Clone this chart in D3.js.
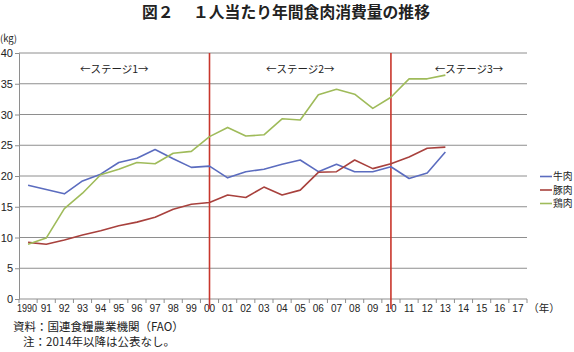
<!DOCTYPE html>
<html>
<head>
<meta charset="utf-8">
<script src="https://cdn.jsdelivr.net/npm/d3@7"></script>
<style>
  body { margin: 0; background: #fff; }
  svg { display: block; }
  text { font-family: "Liberation Sans", Arial, "Noto Sans CJK JP", sans-serif; fill: #222; }
  .jp { font-family: "Noto Sans CJK JP", sans-serif; }
</style>
</head>
<body>
<svg id="chart" width="574" height="352"></svg>
<script>
// 年（1990〜2017）
var years = ["1990", "91", "92", "93", "94", "95", "96", "97", "98", "99",
             "00", "01", "02", "03", "04", "05", "06", "07", "08", "09",
             "10", "11", "12", "13", "14", "15", "16", "17"];
// kg / 人・年 （1990〜2013）
var beef    = [18.5, 17.8, 17.1, 19.2, 20.3, 22.2, 22.9, 24.3, 22.8, 21.4,
               21.6, 19.7, 20.7, 21.1, 21.9, 22.6, 20.7, 21.9, 20.7, 20.7,
               21.5, 19.6, 20.5, 23.9];
var pork    = [9.2, 8.9, 9.6, 10.4, 11.1, 11.9, 12.5, 13.3, 14.6, 15.4,
               15.7, 16.9, 16.5, 18.2, 16.9, 17.7, 20.6, 20.7, 22.6, 21.2,
               22.0, 23.1, 24.5, 24.7];
var chicken = [8.9, 9.9, 14.7, 17.2, 20.2, 21.1, 22.2, 22.0, 23.7, 24.0,
               26.4, 27.9, 26.5, 26.7, 29.3, 29.1, 33.2, 34.1, 33.3, 31.0,
               32.8, 35.8, 35.8, 36.4];
var seriesNames = ["牛肉", "豚肉", "鶏肉"];
var yTicks = [0, 5, 10, 15, 20, 25, 30, 35, 40];
var stageBreaks = ["00", "10"];
var stageLabels = ["←ステージ1→", "←ステージ2→", "←ステージ3→"];

var colors = ["#5b6cbf", "#a8413d", "#9fbb5a"];

var svg = d3.select("#chart");
var plotL = 19, plotR = 527, plotT = 53, plotB = 299;

var x = d3.scaleBand().domain(years).range([plotL, plotR]).paddingInner(0).paddingOuter(0);
var y = d3.scaleLinear().domain([0, 40]).range([plotB, plotT]);
var bw = x.bandwidth();

// title
svg.append("text")
    .attr("class", "jp")
    .attr("x", 286)
    .attr("y", 18)
    .attr("text-anchor", "middle")
    .attr("font-size", 15.8)
    .attr("font-weight", "bold")
    .text("図２　 １人当たり年間食肉消費量の推移");

svg.append("text")
    .attr("class", "jp")
    .attr("x", 0)
    .attr("y", 42)
    .attr("font-size", 9.5)
    .text("(kg)");

// grid lines
svg.append("g")
    .selectAll("line")
    .data(yTicks.filter(function (d) { return d > 0; }))
    .enter()
    .append("line")
    .attr("x1", plotL)
    .attr("x2", plotR)
    .attr("y1", function (d) { return y(d); })
    .attr("y2", function (d) { return y(d); })
    .attr("stroke", "#8e8e8e")
    .attr("stroke-width", 1);

// y axis
var yAxis = d3.axisLeft(y).tickValues(yTicks).tickSize(4).tickPadding(2);
var gy = svg.append("g").attr("transform", "translate(" + plotL + ",0)").call(yAxis);
gy.select(".domain").attr("stroke", "#8e8e8e");
gy.selectAll(".tick line").attr("stroke", "#8e8e8e");
gy.selectAll(".tick text")
    .attr("font-size", 11)
    .attr("font-family", "Liberation Sans, Arial, sans-serif")
    .attr("fill", "#222");

// x axis line + ticks between categories
svg.append("line")
    .attr("x1", plotL).attr("x2", plotR)
    .attr("y1", plotB).attr("y2", plotB)
    .attr("stroke", "#8e8e8e");
svg.append("g")
    .selectAll("line")
    .data(years.concat(["end"]))
    .enter()
    .append("line")
    .attr("x1", function (d, i) { return plotL + i * bw; })
    .attr("x2", function (d, i) { return plotL + i * bw; })
    .attr("y1", plotB)
    .attr("y2", plotB + 4)
    .attr("stroke", "#8e8e8e");
svg.append("g")
    .selectAll("text")
    .data(years)
    .enter()
    .append("text")
    .attr("x", function (d) { return x(d) + bw / 2 - (d.length > 2 ? 1 : 0); })
    .attr("y", plotB + 13)
    .attr("text-anchor", "middle")
    .attr("font-size", 10)
    .attr("textLength", function (d) { return d.length > 2 ? 20 : null; })
    .attr("lengthAdjust", "spacingAndGlyphs")
    .text(function (d) { return d; });

svg.append("text")
    .attr("class", "jp")
    .attr("x", 544)
    .attr("y", plotB + 13)
    .attr("text-anchor", "middle")
    .attr("font-size", 10.5)
    .text("（年）");

// stage divider lines
svg.append("g")
    .selectAll("line")
    .data(stageBreaks)
    .enter()
    .append("line")
    .attr("x1", function (d) { return x(d) + bw / 2; })
    .attr("x2", function (d) { return x(d) + bw / 2; })
    .attr("y1", plotT)
    .attr("y2", plotB + 10)
    .attr("stroke", "#c8362c")
    .attr("stroke-width", 1.6);

// stage labels
var bounds = [plotL].concat(stageBreaks.map(function (d) { return x(d) + bw / 2; })).concat([plotR + 20]);
svg.append("g")
    .selectAll("text")
    .data(stageLabels)
    .enter()
    .append("text")
    .attr("class", "jp")
    .attr("x", function (d, i) { return (bounds[i] + bounds[i + 1]) / 2; })
    .attr("y", 73)
    .attr("text-anchor", "middle")
    .attr("font-size", 10.5)
    .text(function (d) { return d; });

// series lines
var line = d3.line()
    .x(function (d, i) { return x(years[i]) + bw / 2; })
    .y(function (d) { return y(d); });

svg.append("g")
    .selectAll("path")
    .data([beef, pork, chicken])
    .enter()
    .append("path")
    .attr("d", line)
    .attr("fill", "none")
    .attr("stroke", function (d, i) { return colors[i]; })
    .attr("stroke-width", 1.6)
    .attr("stroke-linejoin", "round");

// legend
var legend = svg.append("g")
    .selectAll("g")
    .data(seriesNames)
    .enter()
    .append("g")
    .attr("transform", function (d, i) { return "translate(540," + (176.5 + i * 13.5) + ")"; });
legend.append("line")
    .attr("x1", 0).attr("x2", 12)
    .attr("stroke", function (d, i) { return colors[i]; })
    .attr("stroke-width", 1.6);
legend.append("text")
    .attr("class", "jp")
    .attr("x", 13)
    .attr("y", 3.5)
    .attr("font-size", 9.8)
    .text(function (d) { return d; });

// notes
svg.append("text")
    .attr("class", "jp")
    .attr("x", 13)
    .attr("y", 331)
    .attr("font-size", 11.5)
    .text("資料：国連食糧農業機関（FAO）");
svg.append("text")
    .attr("class", "jp")
    .attr("x", 23)
    .attr("y", 346)
    .attr("font-size", 11.5)
    .text("注：2014年以降は公表なし。");
</script>
</body>
</html>
